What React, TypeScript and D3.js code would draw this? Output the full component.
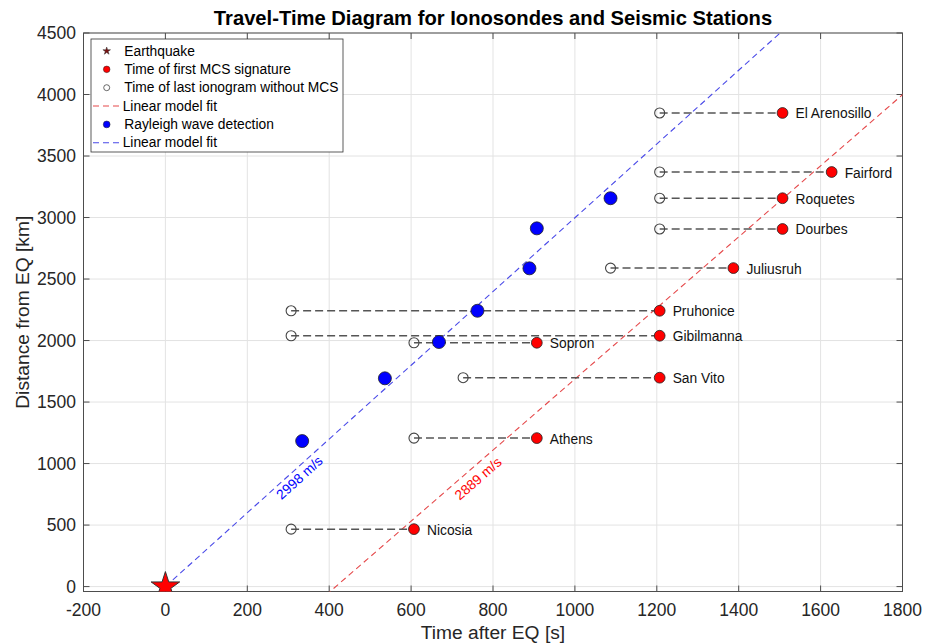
import React from "react";
import * as d3 from "d3";

// Ionosonde stations: distance from the epicentre and observation times (s after EQ)
const stationNames = [
  "Nicosia", "Athens", "San Vito", "Sopron", "Gibilmanna", "Pruhonice",
  "Juliusruh", "Dourbes", "Roquetes", "Fairford", "El Arenosillo",
];
const stationDistKm = [467, 1207, 1698, 1982, 2039, 2242, 2589, 2907, 3157, 3370, 3850];
const firstMcsTime = [607, 907, 1207, 907, 1207, 1207, 1387, 1507, 1507, 1627, 1507];
const lastNoMcsTime = [307, 607, 727, 607, 307, 307, 1087, 1207, 1207, 1207, 1207];

// Seismic stations: Rayleigh wave arrivals
const rayleighTime = [334, 536, 668, 762, 889, 907, 1087];
const rayleighDistKm = [1183, 1693, 1988, 2242, 2587, 2912, 3157];

// Linear model fits (speed in m/s, intercept in km)
const mcsSpeed = 2889;
const mcsInterceptKm = -1202;
const rayleighSpeed = 2998;
const rayleighInterceptKm = 0;

const xTicks = [-200, 0, 200, 400, 600, 800, 1000, 1200, 1400, 1600, 1800];
const yTicks = [0, 500, 1000, 1500, 2000, 2500, 3000, 3500, 4000, 4500];

const legendItems = [
  "Earthquake",
  "Time of first MCS signature",
  "Time of last ionogram without MCS",
  "Linear model fit",
  "Rayleigh wave detection",
  "Linear model fit",
];

const FONT = "'Liberation Sans', Arial, Helvetica, sans-serif";
const W = 933;
const H = 643;
const RED = "#ff0000";
const BLUE = "#0000ff";
const FIT_RED = "#e5484a";
const FIT_BLUE = "#4a4ae8";

export default function App() {
  const x = d3.scaleLinear().domain([-200, 1800]).range([83.5, 902.5]);
  const y = d3.scaleLinear().domain([-40, 4500]).range([591.5, 33]);
  const [x0, x1] = x.range();
  const [y0, y1] = y.range();

  const fitLine = d3
    .line<[number, number]>()
    .x((d) => x(d[0]))
    .y((d) => y(d[1]));

  const mcsFit = (t: number) => (mcsSpeed / 1000) * t + mcsInterceptKm;
  const rayFit = (t: number) => (rayleighSpeed / 1000) * t + rayleighInterceptKm;

  const mcsPts: [number, number][] = [300, 2000].map((t) => [t, mcsFit(t)]);
  const rayPts: [number, number][] = [0, 1700].map((t) => [t, rayFit(t)]);

  const slopeLabel = (fn: (t: number) => number, t: number, off: number) => {
    const px1 = x(t), py1 = y(fn(t));
    const px2 = x(t + 100), py2 = y(fn(t + 100));
    const th = Math.atan2(py2 - py1, px2 - px1);
    return {
      cx: px1 - Math.sin(th) * off,
      cy: py1 + Math.cos(th) * off,
      deg: (th * 180) / Math.PI,
    };
  };
  const rayLab = slopeLabel(rayFit, 313, 9);
  const mcsLab = slopeLabel(mcsFit, 745, 12);

  const star = d3.symbol(d3.symbolStar, (15 * 15) / 0.8908130915292852)();
  const starSmall = d3.symbol(d3.symbolStar, (4 * 4) / 0.8908130915292852)();

  const tickLen = 6;
  const legX = 91, legY = 39, legW = 252, legH = 113;
  const rowY = (i: number) => 51 + i * 18.35;

  return (
    <svg
      width={W}
      height={H}
      style={{ position: "absolute", left: 0, top: 0, background: "#fff" }}
      fontFamily={FONT}
    >
      <defs>
        <clipPath id="plot-clip">
          <rect x={x0} y={y1} width={x1 - x0} height={y0 - y1} />
        </clipPath>
      </defs>
      <rect x={0} y={0} width={W} height={H} fill="#fff" />

      {/* grid */}
      <g stroke="#e3e3e3" strokeWidth={1}>
        {xTicks.map((t) => (
          <line key={"gx" + t} x1={x(t)} x2={x(t)} y1={y1} y2={y0} />
        ))}
        {yTicks.map((t) => (
          <line key={"gy" + t} x1={x0} x2={x1} y1={y(t)} y2={y(t)} />
        ))}
      </g>

      {/* axes box and ticks */}
      <g stroke="#4d4d4d" strokeWidth={1} fill="none">
        <rect x={x0} y={y1} width={x1 - x0} height={y0 - y1} />
        {xTicks.map((t) => (
          <g key={"tx" + t}>
            <line x1={x(t)} x2={x(t)} y1={y0} y2={y0 - tickLen} />
            <line x1={x(t)} x2={x(t)} y1={y1} y2={y1 + tickLen} />
          </g>
        ))}
        {yTicks.map((t) => (
          <g key={"ty" + t}>
            <line x1={x0} x2={x0 + tickLen} y1={y(t)} y2={y(t)} />
            <line x1={x1} x2={x1 - tickLen} y1={y(t)} y2={y(t)} />
          </g>
        ))}
      </g>

      {/* tick labels */}
      <g fill="#262626" fontSize={17.5}>
        {xTicks.map((t) => (
          <text key={"lx" + t} x={x(t)} y={616} textAnchor="middle">
            {t}
          </text>
        ))}
        {yTicks.map((t) => (
          <text key={"ly" + t} x={76} y={y(t)} textAnchor="end" dominantBaseline="central">
            {t}
          </text>
        ))}
      </g>

      {/* axis labels and title */}
      <text x={(x0 + x1) / 2} y={639} textAnchor="middle" fontSize={19.2} fill="#262626">
        Time after EQ [s]
      </text>
      <text
        transform={`translate(29, ${(y0 + y1) / 2}) rotate(-90)`}
        textAnchor="middle"
        fontSize={19.2}
        fill="#262626"
      >
        Distance from EQ [km]
      </text>
      <text
        x={(x0 + x1) / 2}
        y={25}
        textAnchor="middle"
        fontSize={20.2}
        fontWeight="bold"
        fill="#000"
      >
        Travel-Time Diagram for Ionosondes and Seismic Stations
      </text>

      <g clipPath="url(#plot-clip)">
        {/* linear model fits */}
        <path
          d={fitLine(mcsPts) || ""}
          fill="none"
          stroke={FIT_RED}
          strokeWidth={1.1}
          strokeDasharray="6 4"
        />
        <path
          d={fitLine(rayPts) || ""}
          fill="none"
          stroke={FIT_BLUE}
          strokeWidth={1.1}
          strokeDasharray="6 4"
        />

        {/* connectors from last quiet ionogram to first MCS signature */}
        {stationNames.map((n, i) => (
          <line
            key={"c" + n}
            x1={x(lastNoMcsTime[i])}
            x2={x(firstMcsTime[i])}
            y1={y(stationDistKm[i])}
            y2={y(stationDistKm[i])}
            stroke="#555"
            strokeWidth={1.5}
            strokeDasharray="8 4"
          />
        ))}

        {/* last ionogram without MCS */}
        {stationNames.map((n, i) => (
          <circle
            key={"o" + n}
            cx={x(lastNoMcsTime[i])}
            cy={y(stationDistKm[i])}
            r={5}
            fill="none"
            stroke="#444"
            strokeWidth={1.1}
          />
        ))}

        {/* Rayleigh wave detections */}
        {rayleighTime.map((t, i) => (
          <circle
            key={"r" + i}
            cx={x(t)}
            cy={y(rayleighDistKm[i])}
            r={6.5}
            fill={BLUE}
            stroke="#222"
            strokeWidth={0.8}
          />
        ))}

        {/* first MCS signature */}
        {stationNames.map((n, i) => (
          <circle
            key={"m" + n}
            cx={x(firstMcsTime[i])}
            cy={y(stationDistKm[i])}
            r={5.4}
            fill={RED}
            stroke="#222"
            strokeWidth={0.8}
          />
        ))}

        {/* earthquake */}
        <path
          d={star || ""}
          transform={`translate(${x(0)}, ${y(0)})`}
          fill={RED}
          stroke="#333"
          strokeWidth={1}
        />
      </g>

      {/* station names */}
      <g fontSize={13.8} fill="#111">
        {stationNames.map((n, i) => (
          <text
            key={"n" + n}
            x={x(firstMcsTime[i]) + 13}
            y={y(stationDistKm[i]) + 1}
            dominantBaseline="central"
          >
            {n}
          </text>
        ))}
      </g>

      {/* slope labels */}
      <text
        transform={`translate(${rayLab.cx}, ${rayLab.cy}) rotate(${rayLab.deg})`}
        textAnchor="middle"
        dominantBaseline="central"
        fontSize={13.8}
        fill={BLUE}
      >
        {rayleighSpeed} m/s
      </text>
      <text
        transform={`translate(${mcsLab.cx}, ${mcsLab.cy}) rotate(${mcsLab.deg})`}
        textAnchor="middle"
        dominantBaseline="central"
        fontSize={13.8}
        fill={RED}
      >
        {mcsSpeed} m/s
      </text>

      {/* legend */}
      <g>
        <rect x={legX} y={legY} width={legW} height={legH} fill="#fff" stroke="#333" strokeWidth={0.8} />
        <path d={starSmall || ""} transform={`translate(106.7, ${rowY(0)})`} fill="#7a1010" stroke="#333" strokeWidth={0.5} />
        <circle cx={106.7} cy={rowY(1)} r={3.3} fill={RED} stroke="#222" strokeWidth={0.5} />
        <circle cx={106.7} cy={rowY(2)} r={3} fill="none" stroke="#444" strokeWidth={0.8} />
        <line x1={93} x2={122} y1={rowY(3)} y2={rowY(3)} stroke={FIT_RED} strokeWidth={1.1} strokeDasharray="6 4" />
        <circle cx={106.7} cy={rowY(4)} r={3.4} fill={BLUE} stroke="#222" strokeWidth={0.5} />
        <line x1={93} x2={122} y1={rowY(5)} y2={rowY(5)} stroke={FIT_BLUE} strokeWidth={1.1} strokeDasharray="6 4" />
        {legendItems.map((s, i) => (
          <text
            key={"lg" + i}
            x={i === 3 || i === 5 ? 122.7 : 124.3}
            y={rowY(i)}
            dominantBaseline="central"
            fontSize={13.8}
            fill="#000"
          >
            {s}
          </text>
        ))}
      </g>
    </svg>
  );
}
